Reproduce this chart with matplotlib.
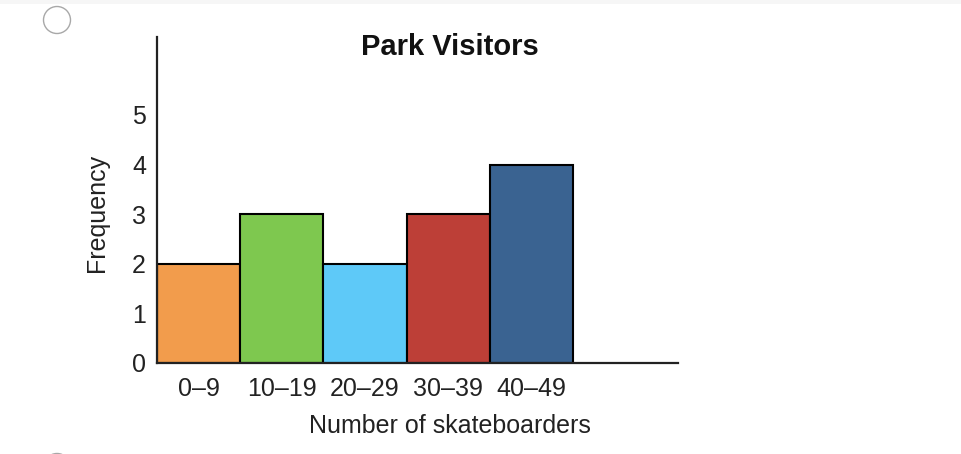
import matplotlib
matplotlib.use("Agg")
import matplotlib.pyplot as plt
from matplotlib.patches import Circle, Rectangle

categories = ["0–9", "10–19", "20–29", "30–39", "40–49"]
frequency = [2, 3, 2, 3, 4]
colors = ["#F29C4C", "#7EC84F", "#5EC9F8", "#BD3F37", "#3A6391"]
y_ticks = [0, 1, 2, 3, 4, 5]
title = "Park Visitors"
xlabel = "Number of skateboarders"
ylabel = "Frequency"

plt.rcParams['font.family'] = ['Liberation Sans', 'DejaVu Sans']

W, H = 962, 454
fig = plt.figure(figsize=(W / 100, H / 100), dpi=100)
fig.patch.set_facecolor("white")

# light top strip and radio circles
fig.patches.append(Rectangle((0, 1 - 4 / H), 1, 4 / H, transform=fig.transFigure,
                             facecolor="#f6f6f6", edgecolor="none"))
ax_dec = fig.add_axes([0, 0, 1, 1])
ax_dec.set_xlim(0, W)
ax_dec.set_ylim(H, 0)
ax_dec.axis("off")
ax_dec.add_patch(Circle((57, 20), 13.5, facecolor="white", edgecolor="#a8a8a8", lw=1.0))
ax_dec.add_patch(Circle((57, 467), 13.5, facecolor="white", edgecolor="#a8a8a8", lw=1.0))

left, right, bottom, top = 157, 678, 363, 37
ax = fig.add_axes([left / W, (H - bottom) / H, (right - left) / W, (bottom - top) / H])
ax.set_facecolor("none")

x = list(range(len(categories)))
ax.bar(x, frequency, width=1.0, align="edge", color=colors,
       edgecolor="black", linewidth=1.5, zorder=3)

unit_x = 83.2
unit_y = 49.6
ax.set_xlim(0, (right - left) / unit_x)
ax.set_ylim(0, (bottom - top) / unit_y)

ax.set_xticks([i + 0.5 for i in x])
ax.set_xticklabels(categories, fontsize=18, color="#222222")
ax.set_yticks(y_ticks)
ax.set_yticklabels([str(t) for t in y_ticks], fontsize=18, color="#222222")
ax.tick_params(axis="both", length=0)
ax.tick_params(axis="x", pad=10)
ax.tick_params(axis="y", pad=8)

for s in ["top", "right"]:
    ax.spines[s].set_visible(False)
for s in ["left", "bottom"]:
    ax.spines[s].set_color("#222222")
    ax.spines[s].set_linewidth(1.6)
    ax.spines[s].set_zorder(4)

ax.set_xlabel(xlabel, fontsize=18, color="#222222")
ax.xaxis.set_label_coords((450 - left) / (right - left), -(426 - bottom) / (bottom - top), transform=ax.transAxes)
ax.xaxis.label.set_va("center")
ax.set_ylabel(ylabel, fontsize=18, color="#222222")
ax.yaxis.set_label_coords(-(left - 97) / (right - left), (bottom - 213) / (bottom - top), transform=ax.transAxes)
ax.yaxis.label.set_va("center")

fig.text(450 / W, 1 - 47 / H, title, fontsize=21, fontweight="bold",
         ha="center", va="center", color="#111111")

fig.savefig("out.png", dpi=100)
